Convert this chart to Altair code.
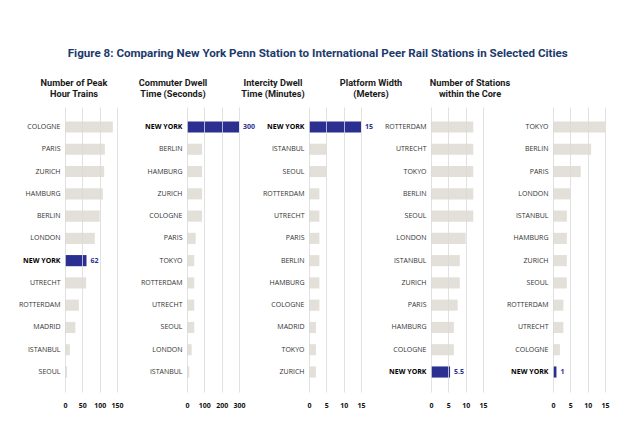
import altair as alt
import pandas as pd

# Figure colours and fonts
NAVY = "#2B2F8F"
BAR_GRAY = "#E3E0D9"
TITLE_BLUE = "#1C3A6C"
HEAD_FONT = "Liberation Sans Narrow, Arial Narrow, Roboto, sans-serif"
BODY_FONT = "Open Sans, sans-serif"

# Number of peak hour trains
peak_cities = ["COLOGNE", "PARIS", "ZURICH", "HAMBURG", "BERLIN", "LONDON",
               "NEW YORK", "UTRECHT", "ROTTERDAM", "MADRID", "ISTANBUL", "SEOUL"]
peak_values = [138, 115, 113, 109, 100, 86, 62, 61, 40, 30, 14, 6]

# Commuter dwell time (seconds)
commuter_cities = ["NEW YORK", "BERLIN", "HAMBURG", "ZURICH", "COLOGNE", "PARIS",
                   "TOKYO", "ROTTERDAM", "UTRECHT", "SEOUL", "LONDON", "ISTANBUL"]
commuter_values = [300, 87, 87, 87, 87, 50, 42, 42, 42, 42, 27, 13]

# Intercity dwell time (minutes)
intercity_cities = ["NEW YORK", "ISTANBUL", "SEOUL", "ROTTERDAM", "UTRECHT", "PARIS",
                    "BERLIN", "HAMBURG", "COLOGNE", "MADRID", "TOKYO", "ZURICH"]
intercity_values = [15, 5, 5, 3, 3, 3, 3, 3, 3, 2, 2, 2]

# Platform width (meters)
platform_cities = ["ROTTERDAM", "UTRECHT", "TOKYO", "BERLIN", "SEOUL", "LONDON",
                   "ISTANBUL", "ZURICH", "PARIS", "HAMBURG", "COLOGNE", "NEW YORK"]
platform_values = [12.2, 12.2, 12.2, 12.2, 12.2, 10, 8.3, 8.3, 7.7, 6.6, 6.6, 5.5]

# Number of stations within the core
stations_cities = ["TOKYO", "BERLIN", "PARIS", "LONDON", "ISTANBUL", "HAMBURG",
                   "ZURICH", "SEOUL", "ROTTERDAM", "UTRECHT", "COLOGNE", "NEW YORK"]
stations_values = [15, 11, 8, 5, 4, 4, 4, 4, 3, 3, 2, 1]

panel_headings = [
    ["Number of Peak", "Hour Trains"],
    ["Commuter Dwell", "Time (Seconds)"],
    ["Intercity Dwell", "Time (Minutes)"],
    ["Platform Width", "(Meters)"],
    ["Number of Stations", "within the Core"],
]
panel_ticks = [[0, 50, 100, 150], [0, 100, 200, 300], [0, 5, 10, 15], [0, 5, 10, 15], [0, 5, 10, 15]]
panel_max = [150, 300, 15, 15, 15]
heading_dx = [-17, -40, -62, -86, -109]

is_ny_label = "datum.value == 'NEW YORK'"


def make_panel(cities, values, ticks, xmax, heading, dx):
    df = pd.DataFrame({"city": cities, "value": values})
    y = alt.Y(
        "city:N", sort=cities, title=None,
        scale=alt.Scale(paddingInner=0.5, paddingOuter=0.648),
        axis=alt.Axis(
            domain=False, ticks=False, grid=False, labelPadding=5,
            labelFontSize=7, labelFont=BODY_FONT, labelLimit=90,
            labelColor=alt.condition(is_ny_label, alt.value("#000000"), alt.value("#333333")),
            labelFontWeight=alt.condition(is_ny_label, alt.value("bold"), alt.value("normal")),
        ),
    )
    x = alt.X(
        "value:Q", title=None,
        scale=alt.Scale(domain=[0, xmax], nice=False),
        axis=alt.Axis(
            values=ticks, grid=True, gridColor="#D9D9D9", gridWidth=0.8,
            domain=False, ticks=False, labelFontSize=7, labelFont=BODY_FONT,
            labelFontWeight="bold", labelColor="#111111", labelPadding=9, zindex=1,
            labelOverlap=False, labelFlush=False,
        ),
    )
    bars = alt.Chart(df).mark_bar().encode(
        x=x, y=y,
        color=alt.condition(alt.datum.city == "NEW YORK", alt.value(NAVY), alt.value(BAR_GRAY)),
    )
    value_label = alt.Chart(df).transform_filter(
        alt.datum.city == "NEW YORK"
    ).mark_text(
        align="left", baseline="middle", dx=4, fontSize=7, fontWeight="bold",
        color=NAVY, font=BODY_FONT,
    ).encode(x=x, y=y, text=alt.Text("value:Q", format="~g"))
    return alt.layer(bars, value_label).properties(
        width=52, height=285,
        title=alt.TitleParams(
            heading, font=HEAD_FONT, fontSize=9.2, fontWeight="bold", color="#1A1A1A",
            anchor="middle", frame="group", dx=dx, offset=8, lineHeight=10.5,
        ),
    )


panels = [
    make_panel(c, v, t, m, h, d)
    for c, v, t, m, h, d in zip(
        [peak_cities, commuter_cities, intercity_cities, platform_cities, stations_cities],
        [peak_values, commuter_values, intercity_values, platform_values, stations_values],
        panel_ticks, panel_max, panel_headings, heading_dx,
    )
]

chart = alt.hconcat(*panels, spacing=70, bounds="flush").properties(
    title=alt.TitleParams(
        "Figure 8: Comparing New York Penn Station to International Peer Rail Stations in Selected Cities",
        font=HEAD_FONT, fontSize=11.6, fontWeight="bold", color=TITLE_BLUE,
        anchor="middle", offset=20, dx=4,
    )
).configure(
    padding={"left": 18, "top": 47, "right": 0, "bottom": 0},
    background="white",
).configure_view(stroke=None)

chart.save("out.html", embed_options={"renderer": "svg", "actions": False})
